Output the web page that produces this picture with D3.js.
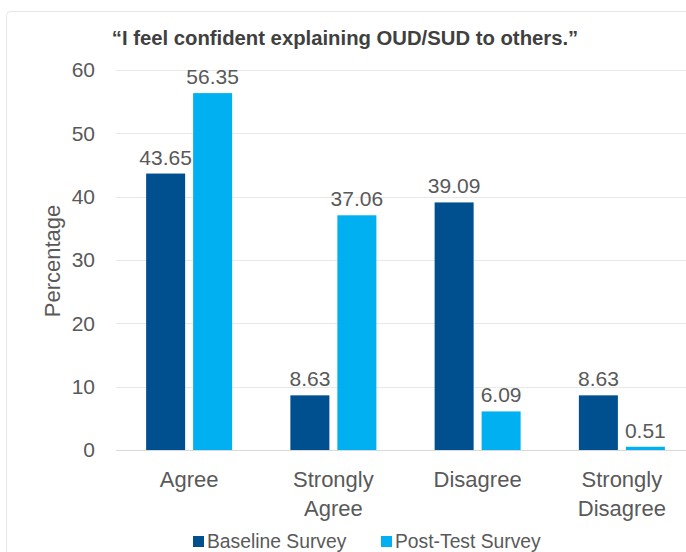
<!DOCTYPE html>
<html>
<head>
<meta charset="utf-8">
<script src="https://cdn.jsdelivr.net/npm/d3@7"></script>
<style>
  html, body { margin: 0; padding: 0; background: #fff; }
  svg { display: block; font-family: "Liberation Sans", Arial, sans-serif; }
</style>
</head>
<body>
<svg id="chart" width="686" height="552"></svg>
<script>
// Survey responses, percentage per answer
const categories = [["Agree"], ["Strongly", "Agree"], ["Disagree"], ["Strongly", "Disagree"]];
const categoryKeys = ["Agree", "Strongly Agree", "Disagree", "Strongly Disagree"];
const seriesNames = ["Baseline Survey", "Post-Test Survey"];
const baselineValues = [43.65, 8.63, 39.09, 8.63];
const postTestValues = [56.35, 37.06, 6.09, 0.51];
const yTicks = [0, 10, 20, 30, 40, 50, 60];
const seriesColors = ["#004F8F", "#00B0F0"];

const svg = d3.select("#chart");
const textColor = "#595959";

// light frame around the chart area
svg.append("rect")
  .attr("x", 6.5).attr("y", 11.5)
  .attr("width", 720).attr("height", 600)
  .attr("rx", 4)
  .attr("fill", "none")
  .attr("stroke", "#e6e6e6");

const plot = { left: 117, right: 694, top: 70, bottom: 450 };

const y = d3.scaleLinear().domain([0, 60]).range([plot.bottom, plot.top]);
const x0 = d3.scaleBand().domain(categoryKeys).range([plot.left, plot.right]).padding(0);
const groupWidth = 86;
const x1 = d3.scaleBand().domain(seriesNames).range([0, groupWidth]).paddingInner(0.17);

// gridlines
svg.append("g")
  .selectAll("line")
  .data(yTicks)
  .join("line")
  .attr("x1", 116).attr("x2", 686)
  .attr("y1", d => Math.round(y(d)) + 0.5)
  .attr("y2", d => Math.round(y(d)) + 0.5)
  .attr("stroke", d => d === 0 ? "#d9d9d9" : "#e8e8e8")
  .attr("stroke-width", 1);

// y axis labels
const yAxis = d3.axisLeft(y).tickValues(yTicks).tickSize(0).tickPadding(0);
svg.append("g")
  .attr("transform", "translate(95,0)")
  .call(yAxis)
  .call(g => g.select(".domain").remove())
  .call(g => g.selectAll("text")
    .attr("font-size", 21)
    .attr("fill", textColor)
    .attr("font-family", "Liberation Sans, Arial, sans-serif"));

// y axis title
svg.append("text")
  .attr("transform", "translate(60,261) rotate(-90)")
  .attr("text-anchor", "middle")
  .attr("font-size", 22)
  .attr("fill", textColor)
  .text("Percentage");

// title
svg.append("text")
  .attr("x", 345).attr("y", 45)
  .attr("text-anchor", "middle")
  .attr("font-size", 20.3)
  .attr("font-weight", "bold")
  .attr("fill", "#404040")
  .text("\u201CI feel confident explaining OUD/SUD to others.\u201D");

// bars
const rows = categoryKeys.map((k, i) => ({
  key: k,
  values: [
    { series: seriesNames[0], value: baselineValues[i], color: seriesColors[0] },
    { series: seriesNames[1], value: postTestValues[i], color: seriesColors[1] }
  ]
}));

const groups = svg.append("g")
  .selectAll("g")
  .data(rows)
  .join("g")
  .attr("transform", d => `translate(${x0(d.key) + x0.bandwidth() / 2 - groupWidth / 2},0)`);

groups.selectAll("rect")
  .data(d => d.values)
  .join("rect")
  .attr("x", d => x1(d.series))
  .attr("width", x1.bandwidth())
  .attr("y", d => y(d.value))
  .attr("height", d => y(0) - y(d.value))
  .attr("fill", d => d.color);

groups.selectAll("text")
  .data(d => d.values)
  .join("text")
  .attr("x", d => x1(d.series) + x1.bandwidth() / 2)
  .attr("y", d => y(d.value) - 9)
  .attr("text-anchor", "middle")
  .attr("font-size", 21)
  .attr("fill", textColor)
  .text(d => d.value.toFixed(2));

// category labels
const catLabels = svg.append("g")
  .selectAll("text")
  .data(categoryKeys)
  .join("text")
  .attr("x", d => x0(d) + x0.bandwidth() / 2)
  .attr("y", 487)
  .attr("text-anchor", "middle")
  .attr("font-size", 22)
  .attr("fill", textColor);

catLabels.selectAll("tspan")
  .data((d, i) => categories[i])
  .join("tspan")
  .attr("x", function () { return d3.select(this.parentNode).attr("x"); })
  .attr("dy", (d, i) => i === 0 ? 0 : 29)
  .text(d => d);

// legend
const legendItems = [
  { name: seriesNames[0], color: seriesColors[0], x: 193 },
  { name: seriesNames[1], color: seriesColors[1], x: 381 }
];
const legend = svg.append("g")
  .selectAll("g")
  .data(legendItems)
  .join("g")
  .attr("transform", d => `translate(${d.x},0)`);
legend.append("rect")
  .attr("x", 0).attr("y", 536)
  .attr("width", 11).attr("height", 11)
  .attr("fill", d => d.color);
legend.append("text")
  .attr("x", 14).attr("y", 548)
  .attr("font-size", 19.3)
  .attr("fill", textColor)
  .text(d => d.name);
</script>
</body>
</html>
